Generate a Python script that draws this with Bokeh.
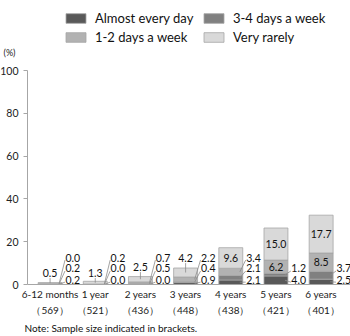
from bokeh.plotting import figure
from bokeh.models import (ColumnDataSource, Range1d, FixedTicker, Legend, LegendItem, Label)
from bokeh.embed import file_html
from bokeh.resources import INLINE

# ---------------- data ----------------
categories = ["6-12 months", "1 year", "2 years", "3 years", "4 years", "5 years", "6 years"]
sample_sizes = ["（569）", "（521）", "（436）", "（448）", "（438）", "（421）", "（401）"]
almost_every_day = [0.2, 0.0, 0.0, 0.9, 2.1, 4.0, 2.5]
days_3_4 = [0.2, 0.0, 0.5, 0.4, 2.1, 1.2, 3.7]
days_1_2 = [0.0, 0.2, 0.7, 2.2, 3.4, 6.2, 8.5]
very_rarely = [0.5, 1.3, 2.5, 4.2, 9.6, 15.0, 17.7]
series_names = ["Almost every day", "3-4 days a week", "1-2 days a week", "Very rarely"]
y_ticks = [0, 20, 40, 60, 80, 100]

# ---------------- style / layout ----------------
FONT = "Lato"
colors = ["#595959", "#808080", "#b2b2b2", "#d9d9d9"]
EDGE = "#a6a6a6"
BAR_W = 0.53
RIGHT_ROW_Y = {"d12": 12.6, "d34": 7.5, "almost": 2.3}   # label rows beside bars
ABOVE_Y = {0: 5.6, 1: 5.6, 2: 8.4, 3: 12.6}              # labels above small bars
RIGHT_DX = 0.34
W, H = 350, 336
X0, X1 = -0.5, 6.65          # plotted x extent (axis start .. right edge)
PLOT_LEFT_PX, PLOT_TOP_PX, PLOT_BOTTOM_PX = 27, 70, 284

# map the whole canvas so that the axes sit where the reference has them
ux = (W - PLOT_LEFT_PX) / (X1 - X0)
uy = (PLOT_BOTTOM_PX - PLOT_TOP_PX) / 100.0
x_range = Range1d(X0 - PLOT_LEFT_PX / ux, X1)
y_range = Range1d(-(H - PLOT_BOTTOM_PX) / uy, 100 + PLOT_TOP_PX / uy)

x = list(range(len(categories)))
src = ColumnDataSource(dict(x=x, almost=almost_every_day, d34=days_3_4,
                            d12=days_1_2, rarely=very_rarely))

p = figure(width=W, height=H, output_backend="svg", toolbar_location=None,
           x_range=x_range, y_range=y_range, min_border=0)
p.outline_line_color = None
p.grid.visible = False
p.background_fill_color = "white"
p.border_fill_color = "white"

rs = p.vbar_stack(["almost", "d34", "d12", "rarely"], x="x", width=BAR_W, color=colors,
                  line_color=EDGE, line_width=0.8, source=src)

ya = p.yaxis[0]
ya.fixed_location = X0
ya.bounds = (0, 100)
ya.ticker = FixedTicker(ticks=y_ticks)
ya.axis_line_color = EDGE
ya.major_tick_line_color = EDGE
ya.major_tick_out = 4
ya.major_tick_in = 0
ya.minor_tick_line_color = None
ya.major_label_standoff = 5
ya.major_label_text_font = FONT
ya.major_label_text_font_size = "10.5px"
ya.major_label_text_color = "#222222"

xa = p.xaxis[0]
xa.fixed_location = 0
xa.bounds = (X0, X1)
xa.ticker = FixedTicker(ticks=x)
xa.major_label_overrides = {i: f"{c}\n{s}" for i, c, s in zip(x, categories, sample_sizes)}
xa.axis_line_color = EDGE
xa.major_tick_line_color = None
xa.minor_tick_line_color = None
xa.major_tick_out = 0
xa.major_tick_in = 0
xa.major_label_standoff = 3
xa.major_label_text_font = FONT
xa.major_label_text_font_size = "10px"
xa.major_label_text_line_height = 1.4
xa.major_label_text_color = "#222222"

# ---------------- data labels ----------------
keys = ["almost", "d34", "d12", "rarely"]
vals = {"almost": almost_every_day, "d34": days_3_4, "d12": days_1_2, "rarely": very_rarely}

in_x, in_y, in_t = [], [], []
rt_x, rt_y, rt_t = [], [], []
seg_x0, seg_y0, seg_x1, seg_y1 = [], [], [], []
for i in x:
    base = 0.0
    mids = {}
    for k in keys:
        mids[k] = base + vals[k][i] / 2
        base += vals[k][i]
    if i in ABOVE_Y:
        in_x.append(i); in_y.append(ABOVE_Y[i]); in_t.append(f"{very_rarely[i]:.1f}")
        seg_x0.append(i); seg_y0.append(mids["rarely"]); seg_x1.append(i); seg_y1.append(ABOVE_Y[i] - 2.6)
    else:
        in_x.append(i); in_y.append(mids["rarely"]); in_t.append(f"{very_rarely[i]:.1f}")
    for k in ["d12", "d34", "almost"]:
        if k == "d12" and i >= 5:
            in_x.append(i); in_y.append(mids[k]); in_t.append(f"{vals[k][i]:.1f}")
            continue
        ry = RIGHT_ROW_Y[k]
        rt_x.append(i + RIGHT_DX); rt_y.append(ry); rt_t.append(f"{vals[k][i]:.1f}")
        seg_x0.append(i + 0.2); seg_y0.append(mids[k])
        seg_x1.append(i + RIGHT_DX - 0.01); seg_y1.append(ry - 1.2)

p.segment(seg_x0, seg_y0, seg_x1, seg_y1, line_color="#8c8c8c", line_width=0.8)
p.text(in_x, in_y, text=in_t, text_align="center", text_baseline="middle",
       text_font_size="10.5px", text_font={"value": FONT}, text_color="#111111")
p.text(rt_x, rt_y, text=rt_t, text_align="left", text_baseline="middle",
       text_font_size="10.5px", text_font={"value": FONT}, text_color="#111111")

# ---------------- legend, unit and note ----------------
items = [LegendItem(label=n, renderers=[r]) for n, r in zip(series_names, rs)]
leg = Legend(items=items, location=(63, H - 45), orientation="horizontal", ncols=2,
             glyph_width=25, glyph_height=12, label_height=13, label_width=103,
             label_standoff=7, spacing=3, padding=0, margin=0,
             label_text_font=FONT, label_text_font_size="13px", label_text_color="#111111",
             border_line_color=None, background_fill_alpha=0)
p.add_layout(leg, "center")

p.add_layout(Label(x=3, y=H - 52, x_units="screen", y_units="screen", text="(%)",
                   text_baseline="middle", text_font=FONT, text_font_size="9px",
                   text_color="#222222"))
p.add_layout(Label(x=24, y=H - 327, x_units="screen", y_units="screen",
                   text="Note: Sample size indicated in brackets.",
                   text_baseline="middle", text_font=FONT, text_font_size="10px",
                   text_color="#111111"))

open("out.html", "w").write(file_html(p, INLINE))
